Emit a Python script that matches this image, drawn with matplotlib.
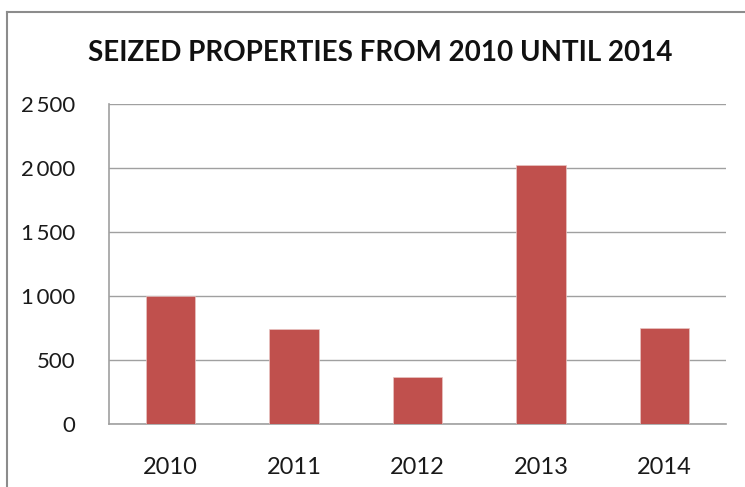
import matplotlib.pyplot as plt
import numpy as np
from matplotlib.lines import Line2D
from matplotlib.ticker import FuncFormatter

plt.rcParams["font.family"] = ["Lato", "DejaVu Sans"]

# Seized properties per year
years = ["2010", "2011", "2012", "2013", "2014"]
seized = [1000, 740, 365, 2020, 748]
yticks = [0, 500, 1000, 1500, 2000, 2500]

bar_color = "#C0504D"
grid_color = "#A0A0A0"

fig = plt.figure(figsize=(7.45, 4.87), dpi=100)
ax = fig.add_axes([109 / 745, 63 / 487, 617 / 745, 320 / 487])

x = np.arange(len(years))
ax.bar(x, seized, width=0.4, color=bar_color, edgecolor="#E8C4C3", linewidth=0.5, zorder=3)

ax.set_xlim(-0.5, len(years) - 0.5)
ax.set_ylim(0, 2500)
ax.set_yticks(yticks)
# thousands grouped with a thin space, as in the original
ax.yaxis.set_major_formatter(FuncFormatter(lambda v, _: f"{int(v):,}".replace(",", "\u2009")))
ax.set_xticks(x)
ax.set_xticklabels(years)

ax.tick_params(axis="both", length=0, colors="#1a1a1a")
ax.tick_params(axis="y", pad=24, labelsize=16)
ax.tick_params(axis="x", pad=24, labelsize=17)

ax.grid(axis="y", color=grid_color, linewidth=1.0, zorder=0)
ax.spines[["top", "right"]].set_visible(False)
for side in ["left", "bottom"]:
    ax.spines[side].set_color(grid_color)
    ax.spines[side].set_linewidth(1.2)

fig.text(380 / 745, 1 - 53 / 487, "SEIZED PROPERTIES FROM 2010 UNTIL 2014",
         ha="center", va="center", fontsize=20, fontweight="bold", color="#111111")

# chart frame (only the top and left edges are inside the crop)
fig.add_artist(Line2D([7 / 745, 1.0], [1 - 12 / 487, 1 - 12 / 487],
                      transform=fig.transFigure, color="#8c8c8c", linewidth=1.5))
fig.add_artist(Line2D([7 / 745, 7 / 745], [0.0, 1 - 12 / 487],
                      transform=fig.transFigure, color="#8c8c8c", linewidth=1.5))

plt.savefig("out.png", dpi=100)
